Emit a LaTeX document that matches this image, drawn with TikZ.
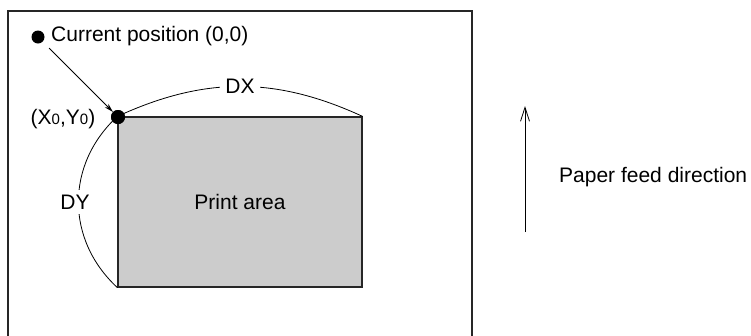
\documentclass[tikz,border=0pt]{standalone}
\usepackage{fontspec}
\setmainfont{Liberation Sans}
\usetikzlibrary{arrows.meta}
\definecolor{areagray}{RGB}{204,204,204}
\begin{document}
\begin{tikzpicture}[x=1pt,y=-1pt,
  lbl/.style={inner sep=1pt,font=\fontsize{21}{25}\selectfont},
  dotnode/.style={circle,fill=black,inner sep=0pt,minimum size=#1},
  thin line/.style={line width=0.8pt}]
\useasboundingbox (0,0) rectangle (751,335);
% outer paper frame (open at the bottom)
\draw[line width=1.6pt,black!85] (8,345) -- (8,11) -- (472,11) -- (472,345);
% print area
\node[draw=black!85,line width=1.2pt,fill=areagray,minimum width=244pt,minimum height=170pt,inner sep=0pt,lbl] (pa) at (240,202) {Print area};
% dots
\node[dotnode=14pt] (xy) at (118,117) {};
\node[dotnode=13pt] (cur) at (38,37) {};
\node[lbl,anchor=west] (curtxt) at (50,36) {Current position (0,0)};
\node[lbl] (xylbl) at (63,119) {(X{\fontsize{15}{15}\selectfont 0},Y{\fontsize{15}{15}\selectfont 0})};
% DX arc
\draw[thin line] (pa.north west) .. controls +(87,-40) and +(-87,-40) .. (pa.north east);
\node[lbl,fill=white,inner xsep=5pt] (dx) at (240,86) {DX};
% DY arc
\draw[thin line] (pa.north west) .. controls +(-52,48) and +(-52,-48) .. (pa.south west);
\node[lbl,fill=white,inner ysep=5pt] (dy) at (75,202) {DY};
% redraw dot on top
\node[dotnode=14pt] at (xy) {};
% arrow to current position
\draw[thin line,-{Stealth[length=9pt,width=5pt]},shorten <=9pt] (cur) -- (xy);
% paper feed direction
\coordinate (fs) at (525,232);
\coordinate (fe) at (525,106);
\draw[thin line,-{Straight Barb[length=14pt,width=9pt]}] (fs) -- (fe);
\node[lbl,anchor=west] (feed) at (558,177) {Paper feed direction};
\end{tikzpicture}
\end{document}
